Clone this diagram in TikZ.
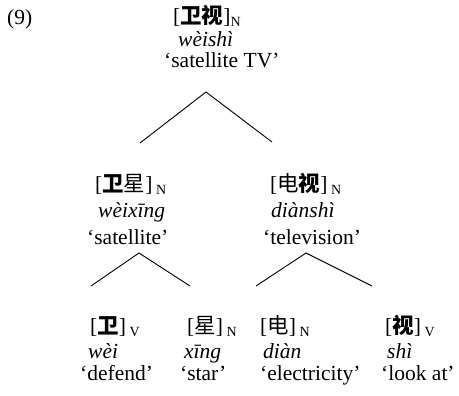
\documentclass[tikz,border=0pt]{standalone}
\usepackage{fontspec}
\setmainfont{Liberation Serif}
\newfontfamily\cjk{Noto Sans CJK SC}
\newcommand{\lsub}[1]{\raisebox{-3pt}{\fontsize{14}{14}\selectfont #1}}
\newcommand{\zb}[1]{{\cjk\bfseries #1}}
\newcommand{\zr}[1]{{\cjk #1}}
\begin{document}
\begin{tikzpicture}[x=1pt,y=-1pt,
  txt/.style={inner sep=0pt, anchor=base west, font=\fontsize{21.5}{26}\selectfont},
  pin/.style={txt, font=\fontsize{21.5}{26}\selectfont\itshape},
  branch/.style={line width=0.9pt, line join=miter}]
\useasboundingbox (0,0) rectangle (459,396);
% example number
\node[txt] (ex) at (7,25) {(9)};
% top
\node[txt] (tc) at (173,24) {[\zb{卫视}]\lsub{N}};
\node[pin] (tp) at (178,47) {wèishì};
\node[txt] (tg) at (164,68) {‘satellite TV’};
% middle left
\node[txt] (lc) at (95,192) {[\zb{卫}\zr{星}]\,\lsub{N}};
\node[pin] (lp) at (98,218) {wèixīng};
\node[txt] (lg) at (87,244) {‘satellite’};
% middle right
\node[txt] (rc) at (270,192) {[\zr{电}\zb{视}]\,\lsub{N}};
\node[pin] (rp) at (271,218) {diànshì};
\node[txt] (rg) at (263,244) {‘television’};
% bottom
\node[txt] (c1) at (90,334) {[\zb{卫}]\,\lsub{V}};
\node[pin] (p1) at (88,359) {wèi};
\node[txt] (g1) at (80,381) {‘defend’};
\node[txt] (c2) at (187,334) {[\zr{星}]\,\lsub{N}};
\node[pin] (p2) at (184,359) {xīng};
\node[txt] (g2) at (180,381) {‘star’};
\node[txt] (c3) at (260,334) {[\zr{电}]\,\lsub{N}};
\node[pin] (p3) at (263,359) {diàn};
\node[txt] (g3) at (260,381) {‘electricity’};
\node[txt] (c4) at (385,334) {[\zb{视}]\,\lsub{V}};
\node[pin] (p4) at (387,359) {shì};
\node[txt] (g4) at (381,381) {‘look at’};
% branch points
\coordinate (a0) at (206,92);
\coordinate (a0l) at (140,143);
\coordinate (a0r) at (272,142);
\coordinate (a1) at (139,253);
\coordinate (a1l) at (91,286);
\coordinate (a1r) at (190,286);
\coordinate (a2) at (306,253);
\coordinate (a2l) at (256,286);
\coordinate (a2r) at (372,286);
\draw[branch] (a0l) -- (a0) -- (a0r);
\draw[branch] (a1l) -- (a1) -- (a1r);
\draw[branch] (a2l) -- (a2) -- (a2r);
\end{tikzpicture}
\end{document}
